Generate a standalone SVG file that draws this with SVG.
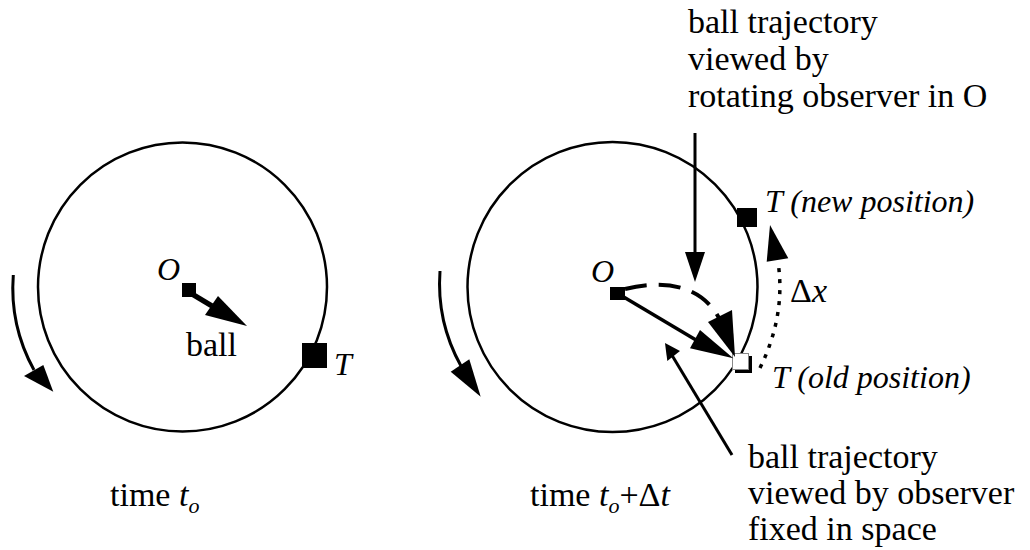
<svg xmlns="http://www.w3.org/2000/svg" width="1030" height="550" viewBox="0 0 1030 550">
<style>
text{font-family:"Liberation Serif","Times New Roman",serif;fill:#000}
.up{font-size:34px}
.it{font-size:32px;font-style:italic}
.sub{font-size:22px;font-style:italic}
.circ{fill:none;stroke:#000;stroke-width:2.5}
.rot{fill:none;stroke:#000;stroke-width:3}
.ln{fill:none;stroke:#000;stroke-width:3.5}
.head{fill:#000;stroke:none}
</style>
<rect width="1030" height="550" fill="#fff"/>

<g id="left-circle"><circle class="circ" cx="182.5" cy="287" r="144.5"/></g>
<g id="right-circle"><circle class="circ" cx="612.5" cy="287" r="145"/></g>

<g id="left-O">
<rect x="182" y="283" width="14" height="14" fill="#000"/>
<text class="it" x="157" y="280">O</text>
</g>
<g id="left-T">
<rect x="302" y="343" width="25" height="25" fill="#000"/>
<text class="it" x="334" y="375">T</text>
</g>
<g id="ball-label"><text class="up" x="186" y="356">ball</text></g>
<g id="left-time"><text class="up" x="110" y="506">time <tspan font-style="italic">t</tspan><tspan class="sub" dy="7">o</tspan></text></g>

<g id="right-O">
<rect x="610" y="287" width="15" height="13" fill="#000"/>
<text class="it" x="591" y="282">O</text>
</g>
<g id="T-new">
<rect x="737" y="208" width="20" height="19" fill="#000"/>
<text class="it" x="765" y="212">T (new position)</text>
</g>
<g id="T-old">
<rect x="735" y="356" width="17" height="17" fill="#000"/>
<rect x="732.5" y="353.5" width="16" height="16" fill="#fff" stroke="#888" stroke-width="1"/>
<text class="it" x="772" y="388">T (old position)</text>
</g>
<g id="dx-label"><text class="up" x="790" y="302">Δ<tspan font-style="italic">x</tspan></text></g>
<g id="right-time"><text class="up" x="530" y="506">time <tspan font-style="italic">t</tspan><tspan class="sub" dy="7">o</tspan><tspan dy="-7">+Δ</tspan><tspan font-style="italic">t</tspan></text></g>

<g id="rotating-label">
<text class="up" x="688" y="33">ball trajectory</text>
<text class="up" x="688" y="70">viewed by</text>
<text class="up" x="688" y="107">rotating observer in O</text>
</g>
<g id="fixed-label">
<text class="up" x="748" y="468">ball trajectory</text>
<text class="up" x="748" y="504">viewed by observer</text>
<text class="up" x="748" y="540">fixed in space</text>
</g>

<g id="connectors">
<!-- rotation arrow left -->
<path class="rot" d="M13.3 275 A170 170 0 0 0 34 370"/>
<polygon class="head" points="53.3,391.7 24,376 43.3,365"/>
<!-- rotation arrow right -->
<path class="rot" d="M440 271 A170 170 0 0 0 461 366"/>
<polygon class="head" points="480.7,396.7 450.7,371.7 469.3,359.3"/>
<!-- ball arrow left -->
<line x1="192" y1="294" x2="212" y2="306" stroke="#000" stroke-width="5.5"/>
<polygon class="head" points="205,315 218,296 247,326"/>
<!-- fixed observer trajectory O -> old T -->
<line class="ln" x1="622" y1="296" x2="696" y2="340"/>
<polygon class="head" points="690,348.3 700,330 733.3,358.3"/>
<!-- rotating trajectory dashed -->
<path d="M625 289 C660 280 700 283 719 318" fill="none" stroke="#000" stroke-width="4" stroke-dasharray="22 12"/>
<polygon class="head" points="708,322 732,310 735,357"/>
<!-- pointer from top label -->
<line x1="695" y1="133" x2="695" y2="256" stroke="#000" stroke-width="3"/>
<polygon class="head" points="685,252 705,252 695,282"/>
<!-- pointer from lower label -->
<line x1="732" y1="455" x2="670" y2="352" stroke="#000" stroke-width="3"/>
<polygon class="head" points="665,343 667.3,361 680,351"/>
<!-- delta x dotted -->
<path d="M760 368 Q786 315 778 262" fill="none" stroke="#000" stroke-width="3.5" stroke-dasharray="4 7"/>
<polygon class="head" points="770,225 766.7,261.7 788.3,258.3"/>
</g>
</svg>
